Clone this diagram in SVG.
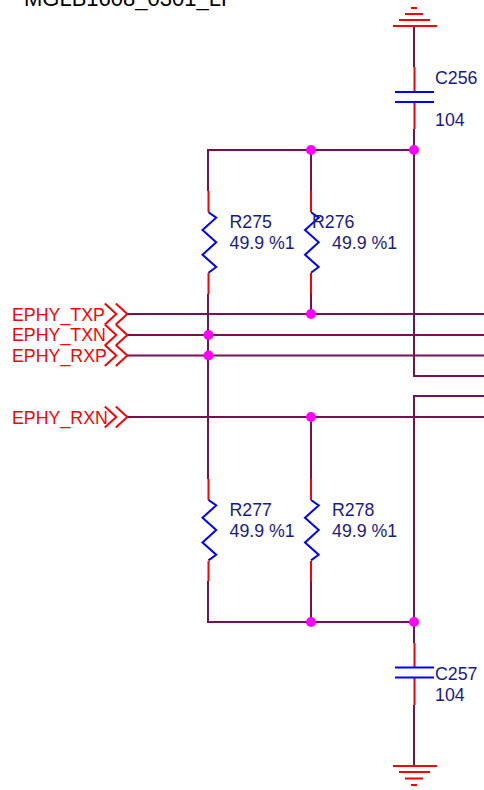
<svg xmlns="http://www.w3.org/2000/svg" width="484" height="790" viewBox="0 0 484 790">
<style>
text{font-family:"Liberation Sans",Arial,sans-serif;font-size:17.8px}
.lab{fill:#1a1a8c}
.net{fill:#ff0000}
.top{fill:#000;font-size:22px}
.w{fill:none;stroke:#7a0f52;stroke-width:2}
.pin{fill:none;stroke:#ff0000;stroke-width:2}
.red{fill:none;stroke:#ff0000;stroke-width:2}
.blue{fill:none;stroke:#0000ff;stroke-width:2}
.dot{fill:#ff00ff}
</style>
<defs>
<path id="zig" class="blue" d="M0 212.3L7.7 217.7L-6 230L7.7 242.3L-6 254.7L7.7 267L0 272.7"/>
<path id="chev" class="red" d="M-22.5 -10.500L-11 0L-22.500 10.500M-11.500 -10.500L0 0L-11.500 10.500"/>
</defs>
<rect width="484" height="790" fill="#fff"/>
<text class="top" x="24" y="6">MGLB1608_0301_LF</text>
<g id="connectors">
<path class="w" d="M414 26V67M414 129V376H484M484 396H414V643M414 705V766M311 150H414M208 191V150H311M311 150V191M208 294V479M208 581V622H414M311 294V314M311 417V479M311 581V622M127 314H484M127 335H484M127 355.500H484M127 417H484"/>
</g>
<g id="gnd-top"><path class="red" d="M393 26H437M399 20H430M405 14H423M411 8H417"/></g>
<g id="C256">
<path class="pin" d="M414.500 67V92M414.500 102V129"/>
<path class="blue" d="M395 92H434M395 102H434"/>
<text class="lab" x="435" y="84">C256</text>
<text class="lab" x="435" y="126">104</text>
</g>
<g id="R275">
<path class="pin" d="M208.500 191V212M208.500 273V294"/>
<use href="#zig" x="208.500"/>
<text class="lab" x="229.500" y="228">R275</text>
<text class="lab" x="229.500" y="249">49.9 %1</text>
</g>
<g id="R276">
<path class="pin" d="M311 191V212M311 273V294"/>
<use href="#zig" x="311"/>
<text class="lab" x="312" y="228">R276</text>
<text class="lab" x="332" y="249">49.9 %1</text>
</g>
<g id="R277">
<path class="pin" d="M208.500 479V500M208.500 561V581"/>
<use href="#zig" x="208.500" y="287.700"/>
<text class="lab" x="229.500" y="516">R277</text>
<text class="lab" x="229.500" y="537">49.9 %1</text>
</g>
<g id="R278">
<path class="pin" d="M311 479V500M311 561V581"/>
<use href="#zig" x="311" y="287.700"/>
<text class="lab" x="332" y="516">R278</text>
<text class="lab" x="332" y="537">49.9 %1</text>
</g>
<g id="C257">
<path class="pin" d="M414.500 643V668M414.500 678V705"/>
<path class="blue" d="M395 667.500H434M395 677.500H434"/>
<text class="lab" x="435" y="680">C257</text>
<text class="lab" x="435" y="701">104</text>
</g>
<g id="gnd-bottom"><path class="red" d="M393 766H437M399 772H430M405 778.500H423M411 785H417"/></g>
<g id="EPHY_TXP"><use href="#chev" x="127.300" y="314"/><text class="net" x="12" y="321">EPHY_TXP</text></g>
<g id="EPHY_TXN"><use href="#chev" x="127.300" y="335"/><text class="net" x="12" y="341">EPHY_TXN</text></g>
<g id="EPHY_RXP"><use href="#chev" x="127.300" y="355.500"/><text class="net" x="12" y="362">EPHY_RXP</text></g>
<g id="EPHY_RXN"><use href="#chev" x="127.300" y="417"/><text class="net" x="12" y="424">EPHY_RXN</text></g>
<g id="junctions">
<circle class="dot" cx="311" cy="150" r="5"/>
<circle class="dot" cx="414" cy="150" r="5"/>
<circle class="dot" cx="311" cy="314" r="5"/>
<circle class="dot" cx="208.500" cy="335" r="5"/>
<circle class="dot" cx="208.500" cy="355.500" r="5"/>
<circle class="dot" cx="311" cy="417" r="5"/>
<circle class="dot" cx="311" cy="622" r="5"/>
<circle class="dot" cx="414" cy="622" r="5"/>
</g>
</svg>
